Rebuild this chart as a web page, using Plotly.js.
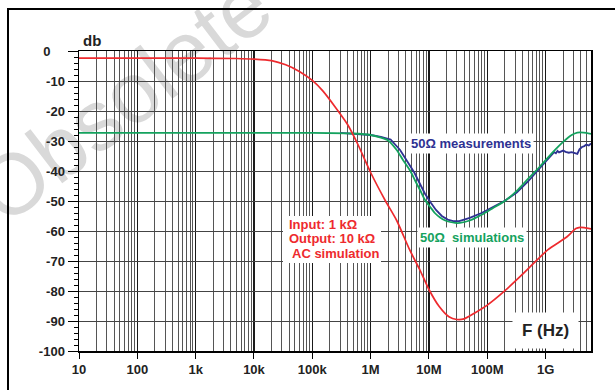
<!DOCTYPE html>
<html><head><meta charset="utf-8">
<script src="https://cdn.plot.ly/plotly-3.0.1.min.js"></script>
<style>html,body{margin:0;padding:0;background:#fff}#chart{width:615px;height:390px}</style>
</head><body><div id="chart"></div>
<script>
// ---- data (frequency in Hz, attenuation in dB) ----
const redFreq = [10, 1e3, 5e3, 1e4, 2e4, 3.5e4, 6e4, 1e5, 1.5e5, 2.5e5, 4e5, 6e5, 1e6, 1.8e6, 2.8e6, 4.7e6, 7e6, 1e7, 1.5e7, 2.2e7, 3e7, 4e7, 6e7, 1e8, 1.9e8, 3.6e8, 7e8, 1.1e9, 2.3e9, 3.3e9, 3.9e9, 4.6e9, 6e9];
const redDb   = [-2.4, -2.4, -2.5, -2.7, -3.2, -4.6, -6.8, -9.8, -13.2, -18.8, -24.4, -31.0, -40.5, -50.0, -56.5, -66.4, -73.0, -79.5, -85.2, -88.6, -89.5, -89.3, -87.4, -84.7, -80.3, -75.3, -69.8, -66.2, -62.0, -59.2, -58.8, -58.9, -59.3];

const greenFreq = [10, 1e5, 5e5, 1e6, 1.5e6, 2e6, 2.8e6, 3.5e6, 4.8e6, 5.9e6, 7.1e6, 8.5e6, 1.05e7, 1.26e7, 1.55e7, 1.9e7, 2.3e7, 2.8e7, 3.4e7, 5e7, 8e7, 1.26e8, 2e8, 3.2e8, 5e8, 8e8, 1.26e9, 2e9, 2.8e9, 3.5e9, 4.5e9, 6e9];
const greenDb   = [-27.3, -27.3, -27.5, -28.0, -28.9, -29.8, -33.0, -36.0, -40.0, -43.5, -46.5, -49.6, -52.0, -54.0, -55.5, -56.5, -57.0, -57.3, -57.3, -56.5, -54.6, -52.3, -50.0, -46.6, -42.6, -38.5, -34.2, -30.3, -28.0, -27.2, -27.2, -27.6];

const blueFreq = [3e5, 1e6, 1.5e6, 2.2e6, 3.2e6, 4.2e6, 5.6e6, 7.1e6, 8.5e6, 1.07e7, 1.32e7, 1.66e7, 2.1e7, 2.6e7, 3.3e7, 4e7, 5e7, 8e7, 1.26e8, 2e8, 3.2e8, 5e8, 8e8, 1e9, 1.15e9, 1.26e9, 1.4e9, 1.5e9, 1.6e9, 1.7e9, 1.8e9, 2e9, 2.2e9, 2.5e9, 2.8e9, 3.2e9, 3.5e9, 3.8e9, 4.2e9, 4.6e9, 5e9, 5.5e9, 6e9];
const blueDb   = [-27.3, -28.0, -28.6, -29.5, -33.0, -36.5, -40.5, -44.5, -47.5, -50.5, -53.0, -55.0, -56.2, -56.7, -56.7, -56.2, -55.6, -54.0, -51.9, -49.9, -47.2, -43.5, -39.0, -36.8, -35.6, -34.6, -33.7, -34.1, -33.3, -33.8, -33.5, -33.2, -33.6, -33.9, -33.7, -34.2, -34.3, -32.8, -32.0, -31.7, -31.2, -31.5, -30.8];

const xTickVals = [10, 100, 1e3, 1e4, 1e5, 1e6, 1e7, 1e8, 1e9];
const xTickText = ['10', '100', '1k', '10k', '100k', '1M', '10M', '100M', '1G'];
const yTickVals = [0, -10, -20, -30, -40, -50, -60, -70, -80, -90, -100];
const yTickText = ['0\u2007\u2007', '-10', '-20', '-30', '-40', '-50', '-60', '-70', '-80', '-90', '-100'];

// minor grid / tick positions
const xMinor = [];
for (let d = 10; d <= 1e9; d *= 10) {
  for (let m = 2; m <= 9; m++) { if (d * m <= 6e9) xMinor.push(d * m); }
}
const yMinor = [];
for (let v = -98; v < 0; v += 2) { if (v % 10 !== 0) yMinor.push(v); }

const FONT = 'Liberation Sans, Arial, Helvetica, sans-serif';
const RED = '#ee2a2e', GREEN = '#14a25e', BLUE = '#2e3192';

// pixel -> paper helpers (plot area: x 79..591, y 51..351)
const PX = p => (p - 79) / 512;
const PY = p => (351 - p) / 300;

const traces = [
  {x: blueFreq, y: blueDb, type: 'scatter', mode: 'lines', line: {color: BLUE, width: 1.8}, hoverinfo: 'skip'},
  {x: greenFreq, y: greenDb, type: 'scatter', mode: 'lines', line: {color: GREEN, width: 1.8, shape: 'spline', smoothing: 0.6}, hoverinfo: 'skip'},
  {x: redFreq, y: redDb, type: 'scatter', mode: 'lines', line: {color: RED, width: 1.7, shape: 'spline', smoothing: 0.6}, hoverinfo: 'skip'}
];

const tickFont = {family: FONT, size: 13, color: '#222', weight: 700};

function note(text, px, py, color, size, extra) {
  return Object.assign({text: text, xref: 'paper', yref: 'paper', x: PX(px), y: PY(py),
    xanchor: 'center', yanchor: 'middle', showarrow: false,
    font: {family: FONT, size: size, color: color, weight: 700}}, extra || {});
}

const layout = {
  width: 615, height: 390,
  margin: {l: 79, r: 24, t: 51, b: 39},
  paper_bgcolor: '#fff', plot_bgcolor: 'rgba(0,0,0,0)',
  showlegend: false,
  font: {family: FONT},
  xaxis: {
    type: 'log', range: [1, Math.log10(6e9)],
    tickmode: 'array', tickvals: xTickVals, ticktext: xTickText,
    ticks: 'outside', ticklen: 6, tickcolor: '#000', tickwidth: 1,
    showgrid: true, gridcolor: '#1a1a1a', gridwidth: 1.2,
    showline: true, linecolor: '#000', linewidth: 1.5, mirror: true,
    zeroline: false, tickfont: tickFont,
    minor: {tickmode: 'array', tickvals: xMinor, showgrid: true, gridcolor: '#555', gridwidth: 1, ticks: ''}
  },
  yaxis: {
    range: [-100, 0],
    tickmode: 'array', tickvals: yTickVals, ticktext: yTickText,
    ticks: 'outside', ticklen: 10, tickcolor: '#000', tickwidth: 1,
    showgrid: true, gridcolor: '#444', gridwidth: 1,
    showline: true, linecolor: '#000', linewidth: 1.5, mirror: true,
    zeroline: false, tickfont: tickFont,
    minor: {tickmode: 'array', tickvals: yMinor, ticks: 'outside', ticklen: 4, tickcolor: '#000', tickwidth: 1, showgrid: false}
  },
  shapes: [
    // watermark (drawn beneath the grid)
    {type: 'rect', xref: 'paper', yref: 'paper', layer: 'below',
     x0: PX(284.5), x1: PX(285.5), y0: PY(-35), y1: PY(-36),
     line: {width: 0, color: 'rgba(0,0,0,0)'}, fillcolor: 'rgba(0,0,0,0)',
     label: {text: 'Obsolete Product(s)', textangle: -37.5, textposition: 'middle center',
             font: {family: FONT, size: 86, color: '#d9d9d9'}}},
    // outer frame
    {type: 'rect', xref: 'paper', yref: 'paper', layer: 'above',
     x0: PX(8), x1: PX(640), y0: PY(420), y1: PY(9),
     line: {color: '#000', width: 2}, fillcolor: 'rgba(0,0,0,0)'},
    // white box behind the red note
    {type: 'rect', xref: 'paper', yref: 'paper', layer: 'above',
     x0: PX(283), x1: PX(381), y0: PY(263), y1: PY(216),
     line: {width: 0}, fillcolor: '#fff'}
  ],
  annotations: [
    note('db', 92, 40, '#222', 15),
    note('F (Hz)', 545, 330, '#222', 17, {width: 61, height: 31, borderpad: 2, bgcolor: '#fff'}),
    note('50\u03A9 measurements', 471, 143.5, BLUE, 13, {bgcolor: '#fff', borderpad: 2}),
    note('50\u03A9\u00a0 simulations', 471.5, 237.5, GREEN, 13, {bgcolor: '#fff', borderpad: 2}),
    note('Input: 1 k\u03A9', 287, 224, RED, 13, {xanchor: 'left'}),
    note('Output: 10 k\u03A9', 287, 238.5, RED, 13, {xanchor: 'left'}),
    note('AC simulation', 289.5, 253, RED, 13, {xanchor: 'left'})
  ]
};

Plotly.newPlot('chart', traces, layout, {staticPlot: true, displayModeBar: false});
</script>
</body></html>
